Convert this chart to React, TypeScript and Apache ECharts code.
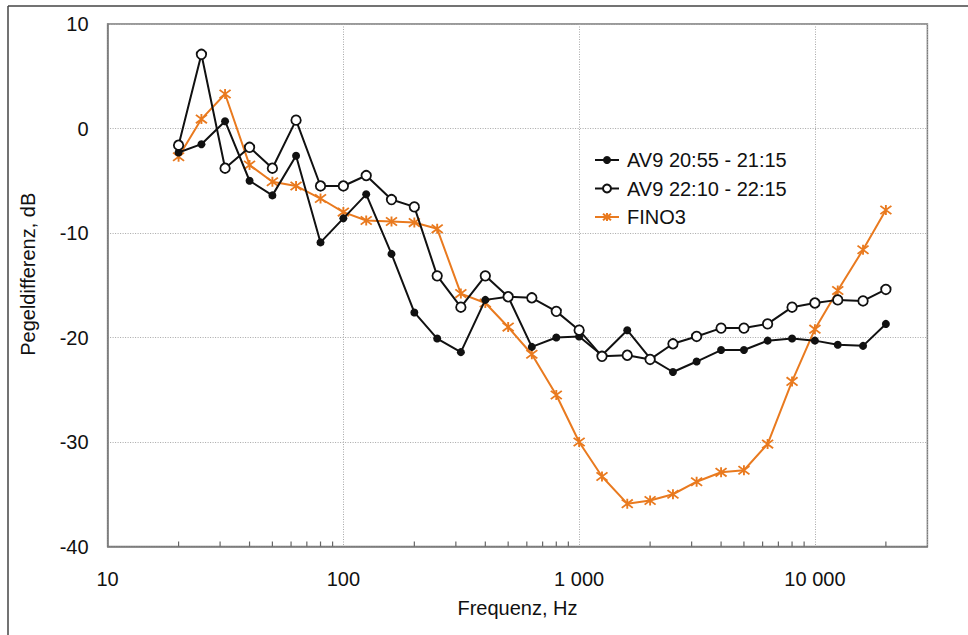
import React, { useEffect, useRef } from "react";
import * as echarts from "echarts";

const freqs = [20, 25, 31.5, 40, 50, 63, 80, 100, 125, 160, 200, 250, 315, 400, 500, 630, 800, 1000, 1250, 1600, 2000, 2500, 3150, 4000, 5000, 6300, 8000, 10000, 12500, 16000, 20000];

const av9Early = [-2.3, -1.5, 0.7, -5.0, -6.4, -2.6, -10.9, -8.6, -6.3, -12.0, -17.6, -20.1, -21.4, -16.4, -16.1, -20.9, -20.0, -19.9, -21.7, -19.3, -22.0, -23.3, -22.3, -21.2, -21.2, -20.3, -20.1, -20.3, -20.7, -20.8, -18.7];

const av9Late = [-1.6, 7.1, -3.8, -1.8, -3.8, 0.8, -5.5, -5.5, -4.5, -6.8, -7.5, -14.1, -17.1, -14.1, -16.1, -16.2, -17.5, -19.3, -21.8, -21.7, -22.1, -20.6, -19.9, -19.1, -19.1, -18.7, -17.1, -16.7, -16.4, -16.5, -15.4];

const fino3 = [-2.7, 0.9, 3.3, -3.5, -5.1, -5.5, -6.7, -8.0, -8.8, -8.9, -9.0, -9.6, -15.8, -16.7, -19.0, -21.6, -25.5, -30.0, -33.3, -35.9, -35.6, -35.0, -33.8, -32.9, -32.7, -30.2, -24.2, -19.2, -15.5, -11.6, -7.8];

const seriesNames = ["AV9 20:55 - 21:15", "AV9 22:10 - 22:15", "FINO3"];

const minorTicks = [20, 30, 40, 50, 60, 70, 80, 90, 200, 300, 400, 500, 600, 700, 800, 900, 2000, 3000, 4000, 5000, 6000, 7000, 8000, 9000, 20000];

const xMin = 10;
const xMax = 30000;
const yMin = -40;
const yMax = 10;
const yInterval = 10;

const FONT = "'Liberation Sans', Arial, Helvetica, sans-serif";
const ORANGE = "#E97A1F";
const STAR = "path://M0 0 L10 10 M10 0 L0 10 M5 -1 L5 11";

const pair = (vals: number[]) => freqs.map((f, i) => [f, vals[i]]);

const fmtFreq = (v: number) => {
  const l = Math.log10(v);
  if (Math.abs(l - Math.round(l)) > 1e-6) return "";
  const n = Math.round(Math.pow(10, Math.round(l)));
  return String(n).replace(/\B(?=(\d{3})+(?!\d))/g, " ");
};

export default function App() {
  const ref = useRef<HTMLDivElement>(null);
  useEffect(() => {
    if (!ref.current) return;
    const chart = echarts.init(ref.current, null, { renderer: "svg" });
    chart.setOption({
      animation: false,
      backgroundColor: "#ffffff",
      textStyle: { fontFamily: FONT },
      grid: {
        left: 107.6,
        right: 40.6,
        top: 24,
        bottom: 88.5,
        show: true,
        borderColor: "#7a7a7a",
        borderWidth: 1.5,
      },
      legend: {
        show: true,
        orient: "vertical",
        left: 589,
        top: 145,
        itemWidth: 24,
        itemHeight: 10,
        itemGap: 8.5,
        data: seriesNames,
        textStyle: { fontSize: 20, color: "#111", fontFamily: FONT, padding: [0, 0, 0, 3] },
      },
      xAxis: {
        type: "log",
        logBase: 10,
        min: xMin,
        max: xMax,
        name: "Frequenz, Hz",
        nameLocation: "middle",
        nameGap: 51,
        nameTextStyle: { fontSize: 20, color: "#111", fontFamily: FONT },
        axisLine: { show: true, onZero: false, lineStyle: { color: "#7a7a7a", width: 1.5 } },
        axisTick: { show: false },
        axisLabel: {
          fontSize: 20,
          color: "#111",
          margin: 22,
          fontFamily: FONT,
          showMaxLabel: false,
          formatter: fmtFreq,
        },
        splitLine: { show: true, lineStyle: { color: "#a8a8a8", type: [1, 1.5], width: 1 } },
        minorTick: { show: false },
      },
      yAxis: {
        type: "value",
        min: yMin,
        max: yMax,
        interval: yInterval,
        name: "Pegeldifferenz, dB",
        nameLocation: "middle",
        nameGap: 70,
        nameTextStyle: { fontSize: 20, color: "#111", fontFamily: FONT, padding: [0, 0, 0, 22] },
        axisLine: { show: true, onZero: false, lineStyle: { color: "#7a7a7a", width: 1.5 } },
        axisTick: { show: false },
        axisLabel: { fontSize: 20, color: "#111", margin: 19, fontFamily: FONT },
        splitLine: { show: true, lineStyle: { color: "#a8a8a8", type: [1, 1.5], width: 1 } },
      },
      graphic: [
        { type: "line", shape: { x1: 8, y1: 6, x2: 968, y2: 6 }, style: { stroke: "#444", lineWidth: 1.5 }, silent: true },
        { type: "line", shape: { x1: 8, y1: 6, x2: 8, y2: 635 }, style: { stroke: "#444", lineWidth: 1.5 }, silent: true },
      ],
      series: [
        {
          type: "custom",
          name: "minorTicks",
          silent: true,
          data: minorTicks.map((f) => [f, yMin]),
          encode: { x: 0, y: 1 },
          renderItem: (params: any, api: any) => {
            const p = api.coord([api.value(0), api.value(1)]);
            return {
              type: "line",
              shape: { x1: p[0], y1: p[1], x2: p[0], y2: p[1] - 5 },
              style: { stroke: "#666", lineWidth: 1.2 },
            };
          },
          z: 1,
        },
        {
          type: "line",
          name: seriesNames[0],
          data: pair(av9Early),
          symbol: "circle",
          symbolSize: 8,
          lineStyle: { color: "#111", width: 2 },
          itemStyle: { color: "#111" },
          z: 3,
        },
        {
          type: "line",
          name: seriesNames[1],
          data: pair(av9Late),
          symbol: "circle",
          symbolSize: 9.5,
          showAllSymbol: true,
          lineStyle: { color: "#111", width: 2 },
          itemStyle: { color: "#ffffff", borderColor: "#111", borderWidth: 1.8 },
          z: 4,
        },
        {
          type: "line",
          name: seriesNames[2],
          data: pair(fino3),
          symbol: STAR,
          symbolSize: [11, 10],
          lineStyle: { color: ORANGE, width: 2 },
          itemStyle: { color: ORANGE, borderColor: ORANGE, borderWidth: 1.8 },
          z: 2,
        },
      ],
    });
    return () => chart.dispose();
  }, []);
  return (
    <div
      ref={ref}
      style={{ position: "absolute", left: 0, top: 0, width: 968, height: 635 }}
    />
  );
}
